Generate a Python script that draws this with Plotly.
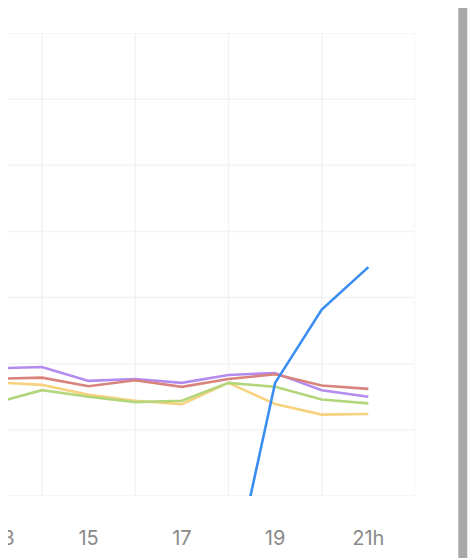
import plotly.graph_objects as go

# hourly readings, 13h .. 21h
hours = [13, 14, 15, 16, 17, 18, 19, 20, 21]

purple = [19.3, 19.5, 17.4, 17.7, 17.1, 18.3, 18.6, 16.0, 15.0]
red = [17.7, 17.9, 16.6, 17.5, 16.5, 17.7, 18.4, 16.7, 16.2]
yellow = [17.2, 16.8, 15.3, 14.4, 13.9, 17.1, 13.9, 12.3, 12.4]
green = [14.1, 16.0, 15.0, 14.2, 14.4, 17.1, 16.5, 14.6, 14.0]
blue = [None, None, None, None, None, -15.3, 17.1, 28.2, 34.6]

tick_vals = [13, 15, 17, 19, 21]
tick_text = ["13", "15", "17", "19", "21h"]
grid_y = [0, 10, 20, 30, 40, 50, 60, 70]
grid_x = [14, 16, 18, 20, 22]

series = [
    ("yellow", yellow, "#f6d27f"),
    ("green", green, "#b3d57b"),
    ("purple", purple, "#b48cf0"),
    ("red", red, "#d9837d"),
    ("blue", blue, "#3a8ef2"),
]

# page has an 8px body margin, so the figure is sized to fit inside it
W, H = 468, 550
ML, MR, MT, MB = 0, 61, 25, 62
PW, PH = W - ML - MR, H - MT - MB
GRID = dict(color="#f3f3f3", width=1.5)

fig = go.Figure()
for name, vals, color in series:
    fig.add_trace(go.Scatter(
        x=hours, y=vals, mode="lines", name=name,
        line=dict(color=color, width=2.6),
        connectgaps=False,
    ))

fig.update_layout(
    width=W, height=H,
    margin=dict(l=ML, r=MR, t=MT, b=MB),
    paper_bgcolor="white",
    plot_bgcolor="white",
    showlegend=False,
    font=dict(family="Inter, Roboto, sans-serif", color="#8a8a8a"),
)
fig.update_xaxes(
    range=[22 - PW / 46.63, 22],
    tickvals=tick_vals, ticktext=tick_text,
    tickfont=dict(size=20, color="#8a8a8a"),
    ticks="", showgrid=False,
    ticklabelstandoff=28,
    showline=False, zeroline=False,
)
fig.update_yaxes(
    range=[0, 70],
    showticklabels=False, showgrid=False,
    zeroline=False, showline=False,
)

# grid: vertical at even hours, horizontal running to the left edge
for h in grid_x:
    fig.add_vline(x=h, line=GRID, layer="below")
for g in grid_y:
    fig.add_hline(y=g, x0=-8 / PW, x1=1, line=GRID, layer="below")

# the "13" label sits partly off the left edge
fig.add_annotation(
    x=-4 / PW, xref="paper", y=(488 - 529.5) / PH, yref="paper",
    text="13", showarrow=False, xanchor="center", yanchor="middle",
    font=dict(size=20, color="#8a8a8a"),
)

# grey scroll bar on the right
fig.add_shape(
    type="rect", xref="paper", yref="paper",
    x0=450.3 / PW, x1=459.3 / PW, y0=-MB / PH, y1=1 + (MT + 8) / PH,
    fillcolor="#a8a8a8", line=dict(width=0),
)

fig.write_html("out.html")
